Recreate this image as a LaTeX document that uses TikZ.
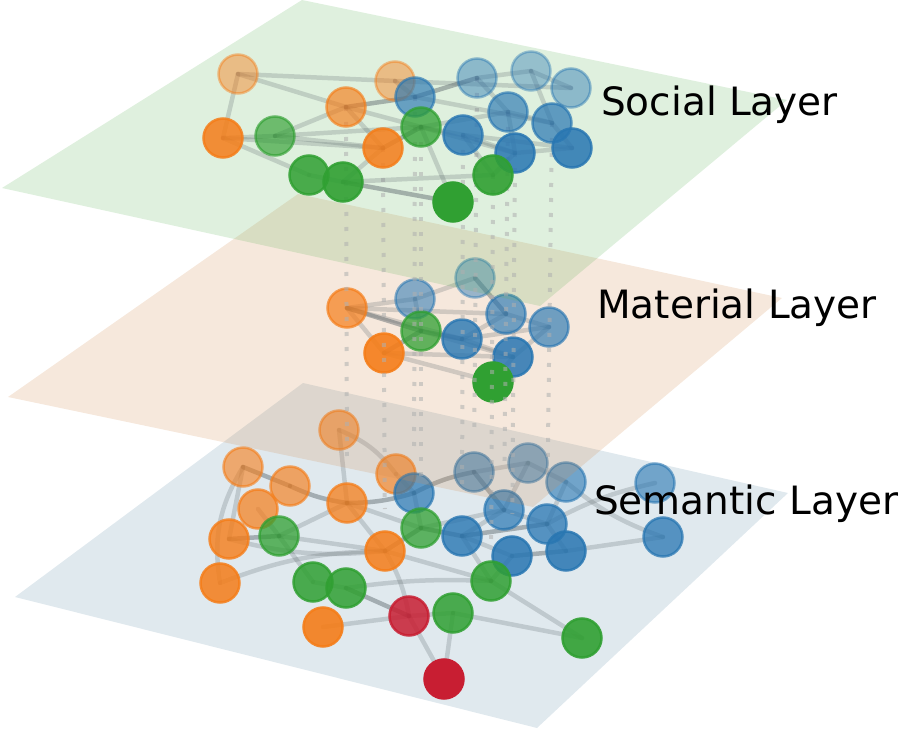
\documentclass[tikz,border=0pt]{standalone}
\usepackage{fontspec}
\setmainfont{DejaVu Sans}
\definecolor{tblue}{RGB}{40,118,178}
\definecolor{torange}{RGB}{245,125,25}
\definecolor{tgreen}{RGB}{48,160,50}
\definecolor{tred}{RGB}{200,30,50}
\definecolor{edgegray}{RGB}{90,100,105}
\definecolor{pgreen}{RGB}{95,180,90}
\definecolor{porange}{RGB}{210,140,80}
\definecolor{pblue}{RGB}{100,145,170}
\definecolor{dotgray}{RGB}{175,175,175}
\begin{document}
\begin{tikzpicture}[x=1pt,y=-1pt,
  plane/.style={fill opacity=0.2, draw=none},
  edge/.style={draw=edgegray, line width=4.5pt, draw opacity=0.24, line cap=round},
  strong/.style={edge, draw opacity=0.45},
  vdot/.style={draw=dotgray, line width=4pt, draw opacity=0.55, dash pattern=on 4pt off 11pt, shorten >=42pt},
  nd/.style 2 args={circle, minimum size=39pt, inner sep=0pt, line width=2.5pt, draw=#1, fill=#1, fill opacity=#2, draw opacity=#2},
  nO/.style={nd={torange}{#1}},
  nB/.style={nd={tblue}{#1}},
  nG/.style={nd={tgreen}{#1}},
  nR/.style={nd={tred}{#1}},
  lbl/.style={font=\fontsize{39}{45}\selectfont, text=black, inner sep=0pt, anchor=base west}
]
\useasboundingbox (0,0) rectangle (900,730);

% ---------- Semantic layer ----------
\fill[pblue, plane] (303,383) -- (788,493) -- (537,728) -- (15,597) -- cycle;
\coordinate (e1) at (339,430);
\coordinate (e2) at (243,467);
\coordinate (e3) at (290,486);
\coordinate (e4) at (258,509);
\coordinate (e5) at (396,474);
\coordinate (e6) at (347,503);
\coordinate (e7) at (229,539);
\coordinate (e8) at (279,536);
\coordinate (e9) at (385,551);
\coordinate (e10) at (220,583);
\coordinate (e11) at (313,582);
\coordinate (e12) at (346,588);
\coordinate (e13) at (414,493);
\coordinate (e14) at (421,528);
\coordinate (e15) at (474,472);
\coordinate (e16) at (528,463);
\coordinate (e17) at (566,482);
\coordinate (e18) at (504,510);
\coordinate (e19) at (547,524);
\coordinate (e20) at (462,536);
\coordinate (e21) at (512,556);
\coordinate (e22) at (566,551);
\coordinate (e23) at (491,581);
\coordinate (r1) at (409,616);
\coordinate (g1) at (453,613);
\coordinate (o1) at (323,627);
\coordinate (g2) at (582,638);
\coordinate (r2) at (444,679);
\coordinate (b1) at (655,483);
\coordinate (b2) at (663,537);

\draw[strong] (e2) -- (e3);
\draw[strong] (e3) to[bend right=8] (e6);
\draw[strong] (e6) to[bend right=8] (e13);
\draw[strong] (e13) to[bend left=8] (e15);
\draw[edge] (e15) -- (e16);
\draw[edge] (e16) -- (e17);
\draw[strong] (e15) -- (e18);
\draw[edge] (e16) -- (e18);
\draw[edge] (e18) -- (e19);
\draw[edge] (e18) -- (e20);
\draw[strong] (e20) -- (e19);
\draw[strong] (e20) -- (e14);
\draw[strong] (e14) -- (e9);
\draw[edge] (e20) -- (e21);
\draw[strong] (e21) -- (e22);
\draw[edge] (e22) -- (e19);
\draw[edge] (e17) -- (e19);
\draw[edge] (e21) -- (e23);
\draw[edge] (e20) -- (e23);
\draw[edge] (e13) -- (e5);
\draw[edge] (e1) -- (e6);
\draw[edge] (e1) to[bend left=15] (e5);
\draw[edge] (e2) -- (e7);
\draw[edge] (e2) to[bend right=20] (e10);
\draw[edge] (e4) -- (e8);
\draw[strong] (e7) -- (e8);
\draw[edge] (e8) -- (e6);
\draw[edge] (e8) -- (e11);
\draw[edge] (e8) -- (e9);
\draw[edge] (e7) to[bend right=10] (e9);
\draw[edge] (e10) to[bend left=10] (e9);
\draw[edge] (e11) -- (e12);
\draw[strong] (e12) -- (r1);
\draw[edge] (e12) to[bend left=5] (e23);
\draw[edge] (e9) to[bend left=10] (r1);
\draw[edge] (e6) -- (e9);
\draw[edge] (e6) -- (e14);
\draw[edge] (e13) -- (e14);
\draw[edge] (e19) to[bend left=8] (b1);
\draw[edge] (e22) -- (b2);
\draw[edge] (e17) to[bend right=10] (b2);
\draw[edge] (e14) -- (e18);
\draw[edge] (r1) -- (g1);
\draw[edge] (r1) -- (r2);
\draw[edge] (g1) -- (r2);
\draw[edge] (g1) -- (g2);
\draw[edge] (e23) -- (g2);
\draw[edge] (o1) -- (r1);
\draw[edge] (e9) -- (e23);

\node[nO=0.6] (ne1) at (e1) {};
\node[nB=0.55] (ne16) at (e16) {};
\node[nO=0.6] (ne2) at (e2) {};
\node[nB=0.6] (ne15) at (e15) {};
\node[nO=0.65] (ne5) at (e5) {};
\node[nB=0.6] (ne17) at (e17) {};
\node[nB=0.6] (nb1) at (b1) {};
\node[nO=0.65] (ne3) at (e3) {};
\node[nB=0.7] (ne13) at (e13) {};
\node[nO=0.75] (ne6) at (e6) {};
\node[nO=0.7] (ne4) at (e4) {};
\node[nB=0.7] (ne18) at (e18) {};
\node[nB=0.75] (ne19) at (e19) {};
\node[nG=0.75] (ne14) at (e14) {};
\node[nG=0.75] (ne8) at (e8) {};
\node[nB=0.8] (ne20) at (e20) {};
\node[nB=0.75] (nb2) at (b2) {};
\node[nO=0.8] (ne7) at (e7) {};
\node[nO=0.85] (ne9) at (e9) {};
\node[nB=0.85] (ne22) at (e22) {};
\node[nB=0.85] (ne21) at (e21) {};
\node[nG=0.85] (ne23) at (e23) {};
\node[nG=0.85] (ne11) at (e11) {};
\node[nO=0.85] (ne10) at (e10) {};
\node[nG=0.85] (ne12) at (e12) {};
\node[nR=0.85] (nr1) at (r1) {};
\node[nG=0.85] (ng1) at (g1) {};
\node[nO=0.9] (no1) at (o1) {};
\node[nG=0.9] (ng2) at (g2) {};
\node[nR=1] (nr2) at (r2) {};

% ---------- Material layer ----------
\fill[porange, plane] (298,194) -- (782,298) -- (533,507) -- (8,397) -- cycle;
\coordinate (m1) at (347,308);
\coordinate (m2) at (384,353);
\coordinate (m3) at (415,299);
\coordinate (m4) at (475,278);
\coordinate (m5) at (421,331);
\coordinate (m6) at (462,339);
\coordinate (m7) at (506,314);
\coordinate (m8) at (549,327);
\coordinate (m9) at (513,357);
\coordinate (m10) at (493,382);

\draw[edge] (m1) -- (m3);
\draw[strong] (m1) -- (m5);
\draw[edge] (m1) -- (m2);
\draw[edge] (m1) -- (m6);
\draw[edge] (m1) -- (m7);
\draw[edge] (m3) -- (m4);
\draw[edge] (m3) -- (m5);
\draw[strong] (m4) -- (m7);
\draw[edge] (m7) -- (m8);
\draw[edge] (m7) -- (m6);
\draw[strong] (m5) -- (m6);
\draw[edge] (m6) -- (m8);
\draw[edge] (m6) -- (m9);
\draw[edge] (m9) -- (m8);
\draw[edge] (m9) -- (m10);
\draw[strong] (m2) -- (m5);
\draw[edge] (m2) -- (m10);
\draw[edge] (m2) -- (m9);
\draw[edge] (m5) -- (m9);

\node[nB=0.45] (nm4) at (m4) {};
\node[nB=0.55] (nm3) at (m3) {};
\node[nO=0.7] (nm1) at (m1) {};
\node[nB=0.65] (nm7) at (m7) {};
\node[nB=0.65] (nm8) at (m8) {};
\node[nG=0.75] (nm5) at (m5) {};
\node[nB=0.8] (nm6) at (m6) {};
\node[nO=0.9] (nm2) at (m2) {};
\node[nB=0.85] (nm9) at (m9) {};
\node[nG=1] (nm10) at (m10) {};

% ---------- Social layer ----------
\fill[pgreen, plane] (302,0) -- (787,100) -- (540,306) -- (2,188) -- cycle;
\coordinate (s1) at (238,74);
\coordinate (s2) at (395,81);
\coordinate (s3) at (346,107);
\coordinate (s4) at (223,138);
\coordinate (s5) at (383,148);
\coordinate (s6) at (275,136);
\coordinate (s7) at (421,127);
\coordinate (s8) at (309,175);
\coordinate (s9) at (343,182);
\coordinate (s10) at (453,202);
\coordinate (s11) at (493,175);
\coordinate (sb1) at (477,78);
\coordinate (sb2) at (531,71);
\coordinate (sb3) at (571,88);
\coordinate (sb4) at (415,97);
\coordinate (sb5) at (508,112);
\coordinate (sb6) at (552,123);
\coordinate (sb7) at (463,135);
\coordinate (sb8) at (515,153);
\coordinate (sb9) at (572,148);

% inter-layer links
\draw[vdot] (s3) -- (e6);
\draw[vdot] (s5) -- (e9);
\draw[vdot] (sb4) -- (e13);
\draw[vdot] (s7) -- (e14);
\draw[vdot] (sb7) -- (e20);
\draw[vdot] (sb1) -- (e15);
\draw[vdot] (s11) -- (e23);
\draw[vdot] (sb5) -- (e18);
\draw[vdot] (sb8) -- (e21);
\draw[vdot] (sb6) -- (e19);

\draw[edge] (s1) -- (s4);
\draw[edge] (s1) -- (s2);
\draw[edge] (s1) -- (s3);
\draw[edge] (s4) -- (s6);
\draw[edge] (s4) -- (s8);
\draw[edge] (s4) -- (s5);
\draw[edge] (s6) -- (s3);
\draw[edge] (s6) -- (s5);
\draw[edge] (s6) -- (s7);
\draw[strong] (s3) -- (sb4);
\draw[edge] (s3) -- (s7);
\draw[edge] (s3) -- (s5);
\draw[edge] (s2) -- (sb4);
\draw[edge] (s2) -- (sb3);
\draw[strong] (s5) -- (s7);
\draw[edge] (s5) -- (s9);
\draw[edge] (s8) -- (s9);
\draw[strong] (s9) -- (s10);
\draw[edge] (s9) -- (s11);
\draw[edge] (s7) -- (sb7);
\draw[edge] (s7) -- (sb8);
\draw[edge] (s7) -- (sb5);
\draw[strong] (sb4) -- (sb1);
\draw[edge] (sb1) -- (sb2);
\draw[edge] (sb2) -- (sb3);
\draw[edge] (sb1) -- (sb5);
\draw[edge] (sb5) -- (sb6);
\draw[edge] (sb6) -- (sb9);
\draw[edge] (sb5) -- (sb8);
\draw[edge] (sb7) -- (sb8);
\draw[edge] (sb8) -- (sb9);
\draw[edge] (sb8) -- (s11);
\draw[edge] (sb7) -- (sb9);
\draw[edge] (s10) -- (s7);
\draw[edge] (s11) -- (sb7);
\draw[edge] (sb4) -- (sb6);
\draw[edge] (sb2) -- (sb6);

\node[nB=0.4] (nsb2) at (sb2) {};
\node[nO=0.45] (ns1) at (s1) {};
\node[nB=0.45] (nsb1) at (sb1) {};
\node[nO=0.45] (ns2) at (s2) {};
\node[nB=0.45] (nsb3) at (sb3) {};
\node[nB=0.65] (nsb4) at (sb4) {};
\node[nO=0.65] (ns3) at (s3) {};
\node[nB=0.65] (nsb5) at (sb5) {};
\node[nB=0.7] (nsb6) at (sb6) {};
\node[nG=0.75] (ns7) at (s7) {};
\node[nB=0.8] (nsb7) at (sb7) {};
\node[nG=0.65] (ns6) at (s6) {};
\node[nO=0.85] (ns4) at (s4) {};
\node[nO=0.85] (ns5) at (s5) {};
\node[nB=0.85] (nsb9) at (sb9) {};
\node[nB=0.85] (nsb8) at (sb8) {};
\node[nG=0.85] (ns8) at (s8) {};
\node[nG=0.9] (ns11) at (s11) {};
\node[nG=0.9] (ns9) at (s9) {};
\node[nG=1] (ns10) at (s10) {};

% ---------- Labels ----------
\node[lbl] (tS) at (601,116) {Social Layer};
\node[lbl] (tM) at (597,318) {Material Layer};
\node[lbl] (tE) at (594,514) {Semantic Layer};
\end{tikzpicture}
\end{document}
